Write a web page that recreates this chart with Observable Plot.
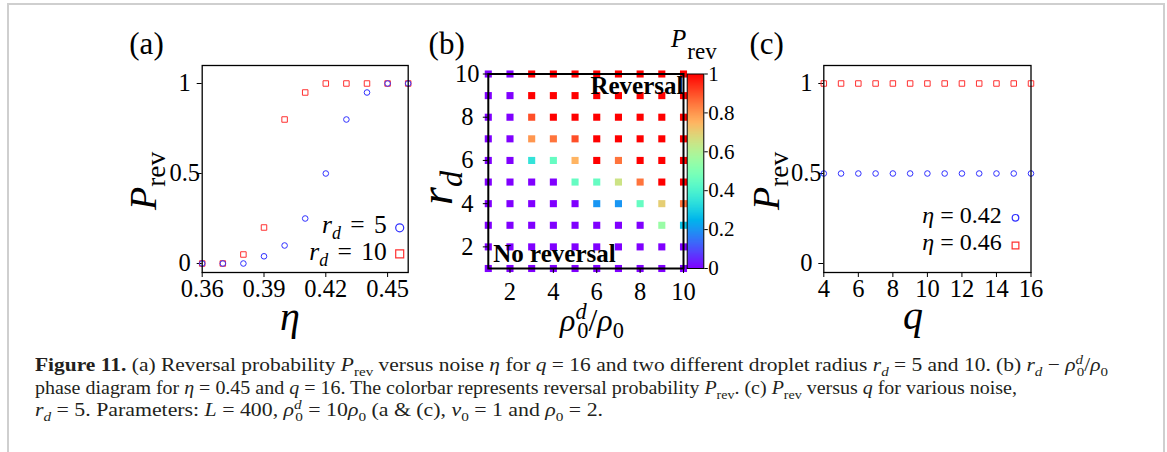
<!DOCTYPE html>
<html><head><meta charset="utf-8">
<script src="https://cdn.jsdelivr.net/npm/d3@7"></script>
<script src="https://cdn.jsdelivr.net/npm/@observablehq/plot@0.6"></script>
<style>
html,body{margin:0;padding:0;background:#fff;}
#fig{position:relative;width:1167px;height:452px;overflow:hidden;background:#fff;font-family:"Liberation Serif",serif;color:#000;}
#border{position:absolute;left:7px;top:3px;width:1154px;height:520px;border:2px solid #cfcfcf;}
.lbl{position:absolute;white-space:nowrap;line-height:1;}
.rot{transform:translate(-50%,-50%) rotate(-90deg);}
.ctr{transform:translate(-50%,-50%);}
sub,sup{line-height:0;font-size:70%;}
.bk{margin-left:-0.42em;}
.panel{position:absolute;top:20px;}
.cap{position:absolute;left:35px;font-size:19px;line-height:22.5px;height:22.5px;white-space:nowrap;color:#231f20;transform-origin:0 50%;}
</style></head>
<body>
<div id="fig">
  <div id="border"></div>
  <div id="pa" class="panel" style="left:120px"></div>
  <div id="pb" class="panel" style="left:420px"></div>
  <div id="pcb" class="panel" style="left:680px"></div>
  <div id="pc" class="panel" style="left:760px"></div>

  <div class="lbl ctr" style="left:146.5px;top:43px;font-size:31px">(a)</div>
  <div class="lbl ctr" style="left:446.7px;top:43px;font-size:31px">(b)</div>
  <div class="lbl ctr" style="left:766.7px;top:43px;font-size:31px">(c)</div>

  <div class="lbl rot" style="left:143px;top:181px;font-size:38px"><i>P</i><sub style="font-size:72%">rev</sub></div>
  <div class="lbl rot" style="left:437px;top:188px;font-size:46px"><i>r<sub>d</sub></i></div>
  <div class="lbl rot" style="left:766px;top:181px;font-size:38px"><i>P</i><sub style="font-size:72%">rev</sub></div>

  <div class="lbl ctr" style="left:290px;top:317px;font-size:40px"><i>η</i></div>
  <div class="lbl ctr" style="left:592px;top:320px;font-size:32px"><i>ρ</i><sup><i>d</i></sup><sub class="bk">0</sub>/<i>ρ</i><sub>0</sub></div>
  <div class="lbl ctr" style="left:913px;top:316px;font-size:40px"><i>q</i></div>

  <div class="lbl" style="left:671px;top:25.8px;font-size:25px"><i>P</i><span style="position:relative;top:12px;margin-left:1px;font-size:23px">rev</span></div>

  <div class="lbl" style="right:780.3px;top:211.6px;height:25px;font-size:25.5px;word-spacing:3px"><i>r<sub>d</sub></i> = 5</div>
  <div class="lbl" style="right:780.3px;top:238.6px;height:25px;font-size:25.5px;word-spacing:3px"><i>r<sub>d</sub></i> = 10</div>
  <div class="lbl" style="right:165.3px;top:202.9px;font-size:24px"><i>η</i> = 0.42</div>
  <div class="lbl" style="right:165.3px;top:229.9px;font-size:24px"><i>η</i> = 0.46</div>

  <div class="cap" data-w="1073" style="top:354px"><b>Figure 11.</b> (a) Reversal probability <i>P</i><sub>rev</sub> versus noise <i>η</i> for <i>q</i> = 16 and two different droplet radius <i>r<sub>d</sub></i> = 5 and 10. (b) <i>r<sub>d</sub></i> − <i>ρ</i><sup><i>d</i></sup><sub class="bk">0</sub>/<i>ρ</i><sub>0</sub></div>
  <div class="cap" data-w="982" style="top:376.5px">phase diagram for <i>η</i> = 0.45 and <i>q</i> = 16. The colorbar represents reversal probability <i>P</i><sub>rev</sub>. (c) <i>P</i><sub>rev</sub> versus <i>q</i> for various noise,</div>
  <div class="cap" data-w="568" style="top:399px"><i>r<sub>d</sub></i> = 5. Parameters: <i>L</i> = 400, <i>ρ</i><sup><i>d</i></sup><sub class="bk">0</sub> = 10<i>ρ</i><sub>0</sub> (a &amp; (c), <i>v</i><sub>0</sub> = 1 and <i>ρ</i><sub>0</sub> = 2.</div>
</div>
<script>
// ---- Panel (a): P_rev vs eta ----
const etaValues = [0.36, 0.37, 0.38, 0.39, 0.40, 0.41, 0.42, 0.43, 0.44, 0.45, 0.46];
const pRevRd5  = [0, 0, 0, 0.04, 0.10, 0.25, 0.50, 0.80, 0.95, 1, 1];
const pRevRd10 = [0, 0, 0.05, 0.20, 0.80, 0.95, 1, 1, 1, 1, 1];
const etaTicks = [0.36, 0.39, 0.42, 0.45];
const pTicks = [0, 0.5, 1];

// ---- Panel (b): r_d vs rho0^d/rho0 phase diagram ----
const rhoRatios = [1, 2, 3, 4, 5, 6, 7, 8, 9, 10];
const rdValues  = [1, 2, 3, 4, 5, 6, 7, 8, 9, 10];
// rows: r_d = 1 .. 10 ; columns: rho0^d/rho0 = 1 .. 10
const pRevGrid = [
  [0, 0, 0, 0, 0, 0, 0, 0, 0, 0],
  [0, 0, 0, 0, 0, 0, 0, 0, 0, 0],
  [0, 0, 0, 0, 0, 0, 0, 0, 0.55, 0.28],
  [0, 0, 0, 0, 0, 0.2, 0.2, 0.45, 0.7, 0.85],
  [0, 0, 0, 0, 0.45, 0.45, 0.65, 0.85, 1, 1],
  [0, 0, 0.35, 0.45, 0.75, 1, 0.85, 1, 1, 1],
  [0, 0, 0.8, 0.85, 0.9, 1, 1, 1, 1, 1],
  [0, 0, 0.9, 1, 1, 1, 1, 1, 1, 1],
  [0, 0, 1, 1, 1, 1, 1, 1, 1, 1],
  [0, 0, 1, 1, 1, 1, 1, 1, 1, 1]
];
const gridTicks = [2, 4, 6, 8, 10];
const colorbarTicks = [0, 0.2, 0.4, 0.6, 0.8, 1];
const regionLabels = ["Reversal", "No reversal"];

// ---- Panel (c): P_rev vs q ----
const qValues = [4, 5, 6, 7, 8, 9, 10, 11, 12, 13, 14, 15, 16];
const pRevEta042 = [0.5, 0.5, 0.5, 0.5, 0.5, 0.5, 0.5, 0.5, 0.5, 0.5, 0.5, 0.5, 0.5];
const pRevEta046 = [1, 1, 1, 1, 1, 1, 1, 1, 1, 1, 1, 1, 1];
const qTicks = [4, 6, 8, 10, 12, 14, 16];

const legendA = ["r_d = 5", "r_d = 10"];
const legendC = ["eta = 0.42", "eta = 0.46"];

const BLUE = "#2f2fff", RED = "#ff3030";
// matplotlib "rainbow" colormap
const rainbow = t => `rgb(${Math.round(255*Math.min(1, Math.abs(2*t - 0.5)))},${Math.round(255*Math.sin(Math.PI*t))},${Math.round(255*Math.cos(Math.PI*t/2))})`;

const dataA = etaValues.map((eta, i) => ({eta, rd5: pRevRd5[i], rd10: pRevRd10[i]}));
const dataB = rdValues.flatMap((rd, i) => rhoRatios.map((rho, j) => ({rho, rd, p: pRevGrid[i][j]})));
const dataC = qValues.map((q, i) => ({q, e42: pRevEta042[i], e46: pRevEta046[i]}));

const TF = 24.5;
const baseStyle = {background: "transparent", fontFamily: '"Liberation Serif", serif', fontSize: TF + "px", color: "#000", overflow: "visible"};
const fmt = d => String(d);

const plotA = Plot.plot({
  width: 300, height: 300,
  marginLeft: 81.7, marginRight: 12.3, marginTop: 45, marginBottom: 48,
  style: baseStyle,
  x: {domain: [0.36, 0.46]},
  y: {domain: [-0.05, 1.1]},
  marks: [
    Plot.axisX({ticks: etaTicks, tickSize: 5, tickPadding: 2, label: null, fontSize: TF, tickFormat: fmt}),
    Plot.axisY({ticks: pTicks, tickSize: 5, tickPadding: 12.5, textAnchor: "middle", label: null, fontSize: TF, tickFormat: fmt}),
    Plot.dot(dataA, {x: "eta", y: "rd10", symbol: "square", r: 3.1, stroke: RED, fill: "none", strokeWidth: 1}),
    Plot.dot(dataA, {x: "eta", y: "rd5", symbol: "circle", r: 2.8, stroke: BLUE, fill: "none", strokeWidth: 1}),
    Plot.dot(legendA.slice(0, 1), {frameAnchor: "bottom-right", dx: -8.5, dy: -44.7, symbol: "circle", r: 4, stroke: BLUE, fill: "none", strokeWidth: 1.2}),
    Plot.dot(legendA.slice(1, 2), {frameAnchor: "bottom-right", dx: -8.5, dy: -18.7, symbol: "square", r: 4.5, stroke: RED, fill: "none", strokeWidth: 1.2}),
    Plot.frame({stroke: "#000", strokeWidth: 1.3})
  ]
});
document.getElementById("pa").append(plotA);

const plotB = Plot.plot({
  width: 270, height: 300,
  marginLeft: 67.8, marginRight: 7, marginTop: 53.5, marginBottom: 52,
  style: baseStyle,
  x: {domain: [1, 10]},
  y: {domain: [1, 10]},
  color: {type: "linear", domain: [0, 1], interpolate: rainbow},
  marks: [
    Plot.dot(dataB, {x: "rho", y: "rd", fill: "p", symbol: "square", r: 4, stroke: null}),
    Plot.axisX({ticks: gridTicks, tickSize: 5, tickPadding: 9.5, label: null, fontSize: TF, tickFormat: fmt}),
    Plot.axisY({ticks: gridTicks, tickSize: 5, tickPadding: 16, textAnchor: "middle", label: null, fontSize: TF, tickFormat: fmt}),
    Plot.frame({stroke: "#000", strokeWidth: 2}),
    Plot.text(regionLabels.slice(0, 1), {frameAnchor: "top-right", textAnchor: "end", lineAnchor: "bottom", dy: 19.8, fontWeight: "bold", fontSize: 25}),
    Plot.text(regionLabels.slice(1, 2), {frameAnchor: "bottom-left", textAnchor: "start", lineAnchor: "bottom", dx: 5, dy: -6.3, fontWeight: "bold", fontSize: 25})
  ]
});
document.getElementById("pb").append(plotB);

const plotCb = Plot.plot({
  width: 80, height: 300,
  marginLeft: 6.7, marginRight: 56.7, marginTop: 53.5, marginBottom: 52,
  style: baseStyle,
  x: {domain: [0, 1], axis: null},
  y: {domain: [0, 1]},
  color: {type: "linear", domain: [0, 1], interpolate: rainbow},
  marks: [
    Plot.raster({x1: 0, x2: 1, y1: 0, y2: 1, width: 1, height: 256, fill: (x, y) => y}),
    Plot.axisY({anchor: "right", ticks: colorbarTicks, tickSize: 3.5, tickPadding: 1, label: null, fontSize: 21, tickFormat: fmt}),
    Plot.frame({stroke: "#000", strokeWidth: 1})
  ]
});
document.getElementById("pcb").append(plotCb);

const plotC = Plot.plot({
  width: 300, height: 300,
  marginLeft: 63.3, marginRight: 29.5, marginTop: 45, marginBottom: 48,
  style: baseStyle,
  x: {domain: [4, 16]},
  y: {domain: [-0.05, 1.1]},
  marks: [
    Plot.axisX({ticks: qTicks, tickSize: 5, tickPadding: 2, label: null, fontSize: TF, tickFormat: fmt}),
    Plot.axisY({ticks: pTicks, tickSize: 5, tickPadding: 12.5, textAnchor: "middle", label: null, fontSize: TF, tickFormat: fmt}),
    Plot.dot(dataC, {x: "q", y: "e46", symbol: "square", r: 3.1, stroke: RED, fill: "none", strokeWidth: 1}),
    Plot.dot(dataC, {x: "q", y: "e42", symbol: "circle", r: 2.8, stroke: BLUE, fill: "none", strokeWidth: 1}),
    Plot.dot(legendC.slice(0, 1), {frameAnchor: "bottom-right", dx: -15.5, dy: -54.7, symbol: "circle", r: 3.3, stroke: BLUE, fill: "none", strokeWidth: 1.2}),
    Plot.dot(legendC.slice(1, 2), {frameAnchor: "bottom-right", dx: -15.5, dy: -27, symbol: "square", r: 3.8, stroke: RED, fill: "none", strokeWidth: 1.2}),
    Plot.frame({stroke: "#000", strokeWidth: 1.3})
  ]
});
document.getElementById("pc").append(plotC);

// stretch each caption line horizontally to the reference line length
document.querySelectorAll(".cap").forEach(el => {
  const target = +el.dataset.w;
  const w = el.getBoundingClientRect().width;
  el.style.transform = `scaleX(${(target / w).toFixed(4)})`;
});
</script>
</body></html>
